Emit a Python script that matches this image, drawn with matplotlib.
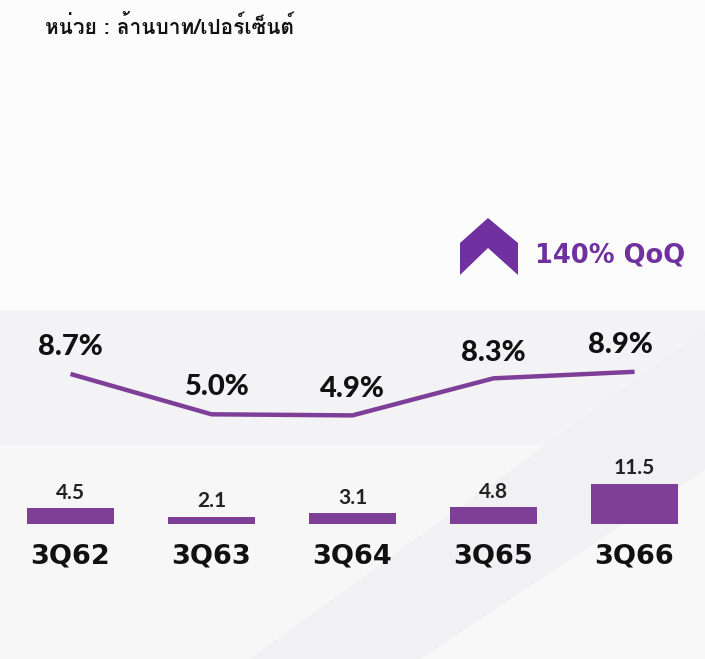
import matplotlib
matplotlib.use("Agg")
import matplotlib.pyplot as plt
import matplotlib.patches as patches
from matplotlib import font_manager
from fontTools.ttLib import TTFont

quarters = ["3Q62", "3Q63", "3Q64", "3Q65", "3Q66"]
profit = [4.5, 2.1, 3.1, 4.8, 11.5]          # million baht
margin = [8.7, 5.0, 4.9, 8.3, 8.9]           # percent
margin_labels = ["8.7%", "5.0%", "4.9%", "8.3%", "8.9%"]
title = "หน่วย : ล้านบาท/เปอร์เซ็นต์"
growth = "140% QoQ"

PURPLE = "#7e3f98"
DARK_PURPLE = "#7030a0"
W, H = 705, 659


def find_thai_font():
    # look for any installed font that has Thai glyphs
    best = None
    for f in font_manager.fontManager.ttflist:
        try:
            cmap = TTFont(f.fname, fontNumber=0, lazy=True).getBestCmap()
        except Exception:
            continue
        if cmap and 0x0E2B in cmap and 0x0E48 in cmap:
            if best is None or f.weight in ("bold", 700):
                best = f.name
            if f.weight in ("bold", 700):
                return f.name
    return best


thai_font = find_thai_font()
title_family = [thai_font, "DejaVu Sans"] if thai_font else ["DejaVu Sans"]


def px(x, y):
    # pixel coords (from top-left) -> figure fraction
    return x / W, 1 - y / H


fig = plt.figure(figsize=(W / 100, H / 100), dpi=100)
fig.patch.set_facecolor("#fcfcfc")

# soft background shapes
bg = [
    ([px(0, 310), px(705, 310), px(705, 445), px(0, 445)], "#f3f3f5"),
    ([px(0, 445), px(705, 445), px(705, 659), px(0, 659)], "#f7f7f8"),
    ([px(250, 659), px(705, 330), px(705, 659)], "#f1f1f3"),
    ([px(420, 659), px(705, 470), px(705, 659)], "#f8f8f9"),
]
for pts, c in bg:
    fig.patches.append(patches.Polygon(pts, closed=True, transform=fig.transFigure,
                                       facecolor=c, edgecolor="none", zorder=-5))

# bar axes: baseline at y=524 px
ax_bar = fig.add_axes([0, (H - 524) / H, 1, 139 / H])
ax_bar.set_xlim(-0.5, 4.5)
ax_bar.set_ylim(0, 40)
x = range(len(quarters))
bars = ax_bar.bar(x, profit, width=0.62, color=PURPLE)
for b, v in zip(bars, profit):
    ax_bar.annotate(f"{v:.1f}", (b.get_x() + b.get_width() / 2, v), xytext=(0, 4),
                    textcoords="offset points", ha="center", va="bottom",
                    fontsize=15, fontweight="bold", family="Lato", color="#222222")
ax_bar.set_xticks(list(x))
ax_bar.set_xticklabels(quarters, fontsize=19.5, fontweight="bold", color="#111111")
ax_bar.tick_params(axis="x", length=0, pad=14)
ax_bar.set_yticks([])
for s in ax_bar.spines.values():
    s.set_visible(False)
ax_bar.patch.set_alpha(0)

# margin line axes
ax_line = fig.add_axes([0, (H - 468.8) / H, 1, 109 / H])
ax_line.set_xlim(-0.5, 4.5)
ax_line.set_ylim(0, 10)
ax_line.plot(list(x), margin, color=PURPLE, lw=3.2, solid_capstyle="butt")
offsets = [(0, 10), (4, 10), (0, 10), (0, 9), (-10, 10)]
for i, (v, lab) in enumerate(zip(margin, margin_labels)):
    ax_line.annotate(lab, (i, v), xytext=offsets[i], textcoords="offset points",
                     ha="center", va="bottom", fontsize=21, fontweight="black",
                     family="Lato", color="#111111")
ax_line.axis("off")

# title
fig.text(45 / W, 1 - 26 / H, title, family=title_family, fontsize=15,
         fontweight="bold", color="#111111", va="center", ha="left")

# chevron + growth text
chevron = [px(460, 243), px(488, 218), px(518, 243), px(518, 275),
           px(488, 248), px(460, 275)]
fig.patches.append(patches.Polygon(chevron, closed=True, transform=fig.transFigure,
                                   facecolor=DARK_PURPLE, edgecolor="none", zorder=3))
fig.text(535 / W, 1 - 255 / H, growth, fontsize=18.5, fontweight="bold",
         color=DARK_PURPLE, va="center", ha="left")

plt.savefig("out.png", dpi=100, facecolor=fig.get_facecolor())
